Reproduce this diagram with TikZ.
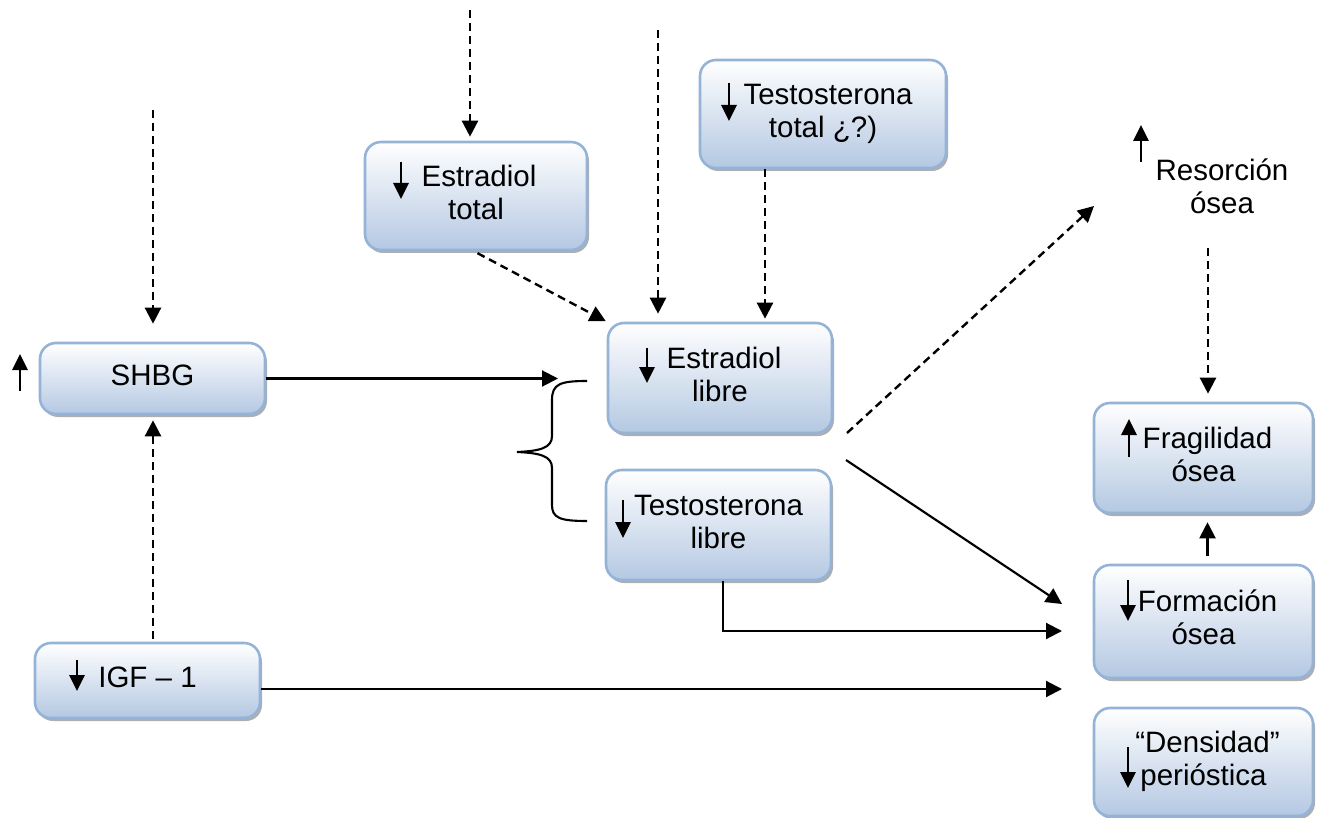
\documentclass[tikz,border=0pt]{standalone}
\usepackage{fontspec}
\setmainfont{Liberation Sans}
\usetikzlibrary{arrows.meta,shadows,calc}
\definecolor{boxline}{HTML}{95B3D7}
\definecolor{boxbot}{HTML}{B4C8E2}
\begin{document}
\begin{tikzpicture}[x=1pt,y=-1pt,
  box/.style={draw=boxline, line width=2.6pt, rounded corners=16pt,
    top color=white, bottom color=boxbot, align=center, inner sep=0pt,
    font=\fontsize{29.5}{33}\selectfont,
    drop shadow={shadow xshift=2pt, shadow yshift=-3pt, fill=black!45, opacity=0.7}},
  txt/.style={align=center, inner sep=0pt, font=\fontsize{29.5}{33}\selectfont},
  dashar/.style={line width=2.4pt, dash pattern=on 8pt off 5pt, -{Triangle[width=16pt,length=16pt]}},
  solar/.style={line width=2.1pt, -{Triangle[width=16pt,length=16pt]}},
  mini/.style={line width=2.8pt, -{Triangle[width=15pt,length=16pt]}}]
\useasboundingbox (0,0) rectangle (1317,818);

% boxes
\node[box, minimum width=222pt, minimum height=108pt] (etot) at (476,196) {\strut\hspace{6pt}Estradiol\\\strut total};
\node[box, minimum width=246pt, minimum height=108pt] (ttot) at (823,114) {\strut\hspace{10pt}Testosterona\\\strut total ¿?)};
\node[box, minimum width=225pt, minimum height=71pt] (shbg) at (152.5,378.5) {\strut SHBG};
\node[box, minimum width=224pt, minimum height=110pt] (elib) at (720,378) {\strut\hspace{8pt}Estradiol\\\strut libre};
\node[box, minimum width=225pt, minimum height=110pt] (tlib) at (718.5,525) {\strut Testosterona\\\strut libre};
\node[box, minimum width=219pt, minimum height=110pt] (frag) at (1203.5,458) {\strut\hspace{8pt}Fragilidad\\\strut ósea};
\node[box, minimum width=219pt, minimum height=113pt] (form) at (1203.5,621.5) {\strut\hspace{8pt}Formación\\\strut ósea};
\node[box, minimum width=219pt, minimum height=108pt] (dens) at (1203.5,762) {\strut\hspace{8pt}“Densidad”\\\strut perióstica};
\node[box, minimum width=225pt, minimum height=75pt] (igf) at (147.5,680.5) {\strut IGF – 1};
\node[txt] (reso) at (1222,190) {\strut Resorción\\\strut ósea};

% small up/down arrows in the labels
\draw[mini] (401,162) -- (401,199);
\draw[mini] (729,83) -- (729,121);
\draw[mini] (647,348) -- (647,383);
\draw[mini] (623,500) -- (623,538);
\draw[mini] (1129,457) -- (1129,419);
\draw[mini] (1128,580) -- (1128,621);
\draw[mini] (1128,747) -- (1128,788);
\draw[mini] (20,391) -- (20,354);
\draw[mini] (77,660) -- (77,691);
\draw[mini] (1141,162) -- (1141,125);

% free ends
\coordinate (s1) at (470,10);
\coordinate (s2) at (153,110);
\coordinate (s3) at (658,30);
\coordinate (x765) at (765,0);
\coordinate (b1) at (558,378);
\coordinate (r0) at (847,433);
\coordinate (r1) at (1094,206);
\coordinate (r2) at (1208,248);
\coordinate (e2) at (846,460);
\coordinate (f1) at (1062,604);
\coordinate (f2) at (1062,631);
\coordinate (f3) at (1062,689);

% connectors
\draw[dashar, shorten >=4pt] (s1) -- (s1 |- etot.north);
\draw[dashar, shorten >=18pt] (s2) -- (s2 |- shbg.north);
\draw[dashar, shorten >=8pt] (s3) -- (s3 |- elib.north);
\draw[dashar, shorten >=3pt] (x765 |- ttot.south) -- (x765 |- elib.north);
\draw[dashar, shorten <=4pt, shorten >=1pt] ([xshift=-2pt]etot.south) -- (elib.north west);
\draw[solar] (shbg.east) -- (shbg.east -| b1);
\draw[line width=2.1pt] (587,381) .. controls (560,381) and (552,384) .. (552,400)
  -- (552,436) .. controls (552,448) and (540,451) .. (517,452)
  .. controls (540,453) and (552,456) .. (552,468)
  -- (552,505) .. controls (552,518) and (560,521) .. (587,521);
\draw[dashar] (r0) -- (r1);
\draw[dashar, shorten >=8pt] (r2) -- (r2 |- frag.north);
\draw[solar] (e2) -- (f1);
\draw[solar] ([xshift=4.5pt]tlib.south) |- (f2);
\draw[solar] (igf.east |- f3) -- (f3);
\draw[dashar, shorten <=3pt, shorten >=5pt] ([xshift=5.5pt]igf.north) -- ([xshift=5.5pt]igf.north |- shbg.south);
\draw[solar, shorten <=8pt, shorten >=8pt] ([xshift=4pt]form.north) -- ([xshift=4pt]frag.south);
\end{tikzpicture}
\end{document}
